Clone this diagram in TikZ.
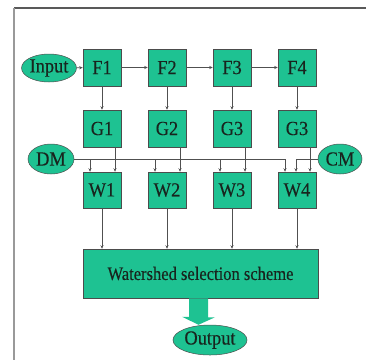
\documentclass[tikz,border=0pt]{standalone}
\usepackage{fontspec}
\setmainfont{Liberation Serif}[FakeStretch=0.92, FakeBold=0.25]
\newfontfamily\widefont{Liberation Serif}[FakeStretch=0.87, FakeBold=0.25]
\usetikzlibrary{shapes.geometric,arrows.meta}
\definecolor{boxfill}{RGB}{30,194,146}
\definecolor{ink}{RGB}{24,36,30}
\definecolor{wire}{RGB}{80,80,80}
\tikzset{
  blk/.style={draw=black!70, line width=0.5pt, fill=boxfill, text=ink,
    minimum width=38pt, minimum height=37pt, inner sep=0pt,
    font=\fontsize{20}{22}\selectfont},
  oval/.style={ellipse, draw=black!70, line width=0.5pt, fill=boxfill, text=ink,
    inner sep=0pt, font=\fontsize{20}{22}\selectfont},
  conn/.style={draw=wire, line width=0.7pt, -{Stealth[length=3.5pt,width=3pt]}},
}
\begin{document}
\begin{tikzpicture}[x=1pt, y=-1pt]
  \useasboundingbox (0,0) rectangle (366,360);
  % frame
  \draw[black!65, line width=1.5pt] (14,8) -- (366,8);
  \draw[black!40, line width=1.5pt] (14,8) -- (14,360);

  % first row
  \node[oval, minimum width=48pt, minimum height=28pt] (in) at (49,68) {Input};
  \node[blk] (F1) at (102,67.5) {F1};
  \node[blk] (F2) at (167,67.5) {F2};
  \node[blk] (F3) at (232,67.5) {F3};
  \node[blk] (F4) at (297,67.5) {F4};
  % second row
  \node[blk] (G1) at (102,128.5) {G1};
  \node[blk] (G2) at (167,128.5) {G2};
  \node[blk] (G3) at (232,128.5) {G3};
  \node[blk] (G4) at (297,128.5) {G3};
  % side inputs
  \node[oval, minimum width=46pt, minimum height=30pt] (DM) at (51,159) {DM};
  \node[oval, minimum width=44pt, minimum height=30pt] (CM) at (340,159) {CM};
  % third row
  \node[blk, minimum height=36pt] (W1) at (102,190) {W1};
  \node[blk, minimum height=36pt] (W2) at (167,190) {W2};
  \node[blk, minimum height=36pt] (W3) at (232,190) {W3};
  \node[blk, minimum height=36pt] (W4) at (297,190) {W4};
  % selection block and result
  \node[blk, minimum width=235pt, minimum height=49pt, font=\widefont\fontsize{19}{21}\selectfont]
    (ws) at (200.5,273.5) {Watershed selection scheme};
  \node[oval, minimum width=74pt, minimum height=30pt] (out) at (210,340) {Output};

  % horizontal chain
  \draw[conn] (in) -- (F1);
  \draw[conn] (F1) -- (F2);
  \draw[conn] (F2) -- (F3);
  \draw[conn] (F3) -- (F4);
  % vertical links per column
  \foreach \i in {1,2,3,4} {
    \draw[conn] (F\i.south) -- (G\i.north);
    \draw[conn] ([xshift=13pt]G\i.south) -- ([xshift=13pt]G\i.south |- W\i.north);
    \draw[conn] (W\i.south) -- (W\i.south |- ws.north);
  }
  % DM bus
  \draw[conn] (DM.east) -- ([xshift=-12pt]W4.north |- DM.east) -- ([xshift=-12pt]W4.north);
  \foreach \i in {1,2,3} {
    \draw[conn] ([xshift=-12pt]W\i.north |- DM.east) -- ([xshift=-12pt]W\i.north);
  }
  % CM feed
  \draw[conn] (CM.west) -- ([xshift=-1pt]W4.north |- CM.west) -- ([xshift=-1pt]W4.north);

  % block arrow to the output
  \fill[boxfill] ([xshift=-2pt]ws.south) ++(-9.5,0) -- ++(19,0) -- ++(0,19) -- ++(7,0)
     -- ([xshift=-2pt]ws.south |- out.north) -- ++(-16.5,-8) -- ++(7,0) -- cycle;
\end{tikzpicture}
\end{document}
